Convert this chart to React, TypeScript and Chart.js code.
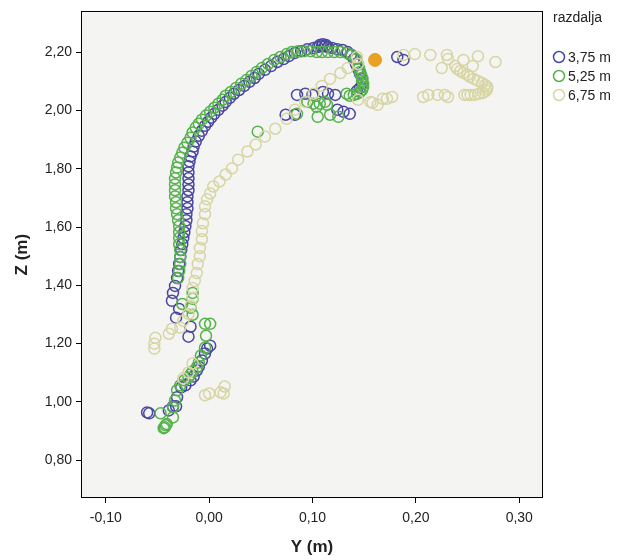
import React, { useEffect, useRef } from 'react';
import { Chart, registerables } from 'chart.js';

Chart.register(...registerables);

const SERIES_LABELS = ['3,75 m', '5,25 m', '6,75 m'];
const SERIES_COLORS = ['#4a47a3', '#55b24c', '#d7d5a4'];
const HIGHLIGHT_COLOR = '#e8a122';

const X_TICKS = [-0.1, 0, 0.1, 0.2, 0.3];
const Z_TICKS = [0.8, 1.0, 1.2, 1.4, 1.6, 1.8, 2.0, 2.2];
const X_MIN = -0.123;
const X_MAX = 0.322;
const Z_MIN = 0.674;
const Z_MAX = 2.336;

// [Y (m), Z (m)]
const s375: [number, number][] = [
  [-0.060, 0.964], [-0.058, 0.961], [-0.039, 0.971], [-0.035, 0.985], [-0.032, 0.985],
  [-0.031, 1.016], [-0.027, 1.050], [-0.023, 1.057], [-0.018, 1.074], [-0.015, 1.087],
  [-0.012, 1.108], [-0.010, 1.121], [-0.007, 1.142], [-0.004, 1.166], [-0.002, 1.183],
  [0.001, 1.193], [-0.018, 1.258], [-0.020, 1.224], [-0.032, 1.289], [-0.029, 1.319],
  [-0.036, 1.347], [-0.035, 1.374], [-0.033, 1.398], [-0.031, 1.425], [-0.030, 1.449],
  [-0.029, 1.473], [-0.028, 1.497], [-0.027, 1.521], [-0.026, 1.541], [-0.025, 1.562],
  [-0.024, 1.582], [-0.023, 1.603], [-0.022, 1.623], [-0.022, 1.644], [-0.021, 1.664],
  [-0.021, 1.685], [-0.021, 1.705], [-0.020, 1.726], [-0.020, 1.746], [-0.020, 1.767],
  [-0.020, 1.787], [-0.020, 1.808], [-0.019, 1.825], [-0.018, 1.842], [-0.016, 1.859],
  [-0.015, 1.876], [-0.013, 1.893], [-0.010, 1.913], [-0.007, 1.930], [-0.004, 1.947],
  [-0.001, 1.961], [0.002, 1.975], [0.005, 1.988], [0.009, 2.002], [0.013, 2.016],
  [0.016, 2.029], [0.020, 2.043], [0.024, 2.057], [0.029, 2.070], [0.034, 2.084],
  [0.039, 2.098], [0.044, 2.111], [0.048, 2.125], [0.054, 2.139], [0.060, 2.152],
  [0.066, 2.166], [0.072, 2.176], [0.077, 2.186], [0.083, 2.197], [0.089, 2.203],
  [0.095, 2.210], [0.101, 2.214], [0.105, 2.217], [0.107, 2.224], [0.109, 2.220],
  [0.110, 2.227], [0.112, 2.220], [0.113, 2.224], [0.115, 2.217], [0.119, 2.214],
  [0.124, 2.210], [0.129, 2.207], [0.134, 2.200], [0.137, 2.190], [0.140, 2.176],
  [0.142, 2.159], [0.144, 2.142], [0.146, 2.125], [0.148, 2.108], [0.148, 2.091],
  [0.146, 2.077], [0.143, 2.067], [0.122, 2.053], [0.115, 2.057], [0.110, 2.063],
  [0.100, 2.053], [0.093, 2.057], [0.085, 2.053], [0.083, 1.985], [0.074, 1.985],
  [0.124, 2.002], [0.130, 1.995], [0.136, 1.988], [0.182, 2.183], [0.188, 2.173],
];

const s525: [number, number][] = [
  [-0.044, 0.910], [-0.043, 0.913], [-0.042, 0.920], [-0.041, 0.924], [-0.047, 0.961],
  [-0.035, 0.947], [-0.035, 0.982], [-0.033, 1.005], [-0.031, 1.040], [-0.028, 1.057],
  [-0.024, 1.074], [-0.020, 1.084], [-0.018, 1.094], [-0.016, 1.104], [-0.012, 1.118],
  [-0.010, 1.135], [-0.008, 1.159], [-0.004, 1.186], [-0.003, 1.227], [-0.004, 1.268],
  [0.001, 1.268], [-0.016, 1.299], [-0.018, 1.323], [-0.026, 1.336], [-0.016, 1.354],
  [-0.016, 1.374], [-0.030, 1.425], [-0.029, 1.449], [-0.028, 1.473], [-0.028, 1.497],
  [-0.028, 1.521], [-0.029, 1.541], [-0.029, 1.562], [-0.029, 1.582], [-0.029, 1.603],
  [-0.030, 1.623], [-0.031, 1.644], [-0.032, 1.664], [-0.032, 1.685], [-0.033, 1.705],
  [-0.033, 1.726], [-0.033, 1.746], [-0.033, 1.767], [-0.032, 1.787], [-0.031, 1.804],
  [-0.030, 1.821], [-0.028, 1.838], [-0.026, 1.855], [-0.024, 1.872], [-0.021, 1.889],
  [-0.018, 1.906], [-0.016, 1.924], [-0.013, 1.941], [-0.010, 1.954], [-0.007, 1.968],
  [-0.003, 1.982], [0.001, 1.995], [0.005, 2.009], [0.009, 2.023], [0.013, 2.036],
  [0.016, 2.050], [0.021, 2.063], [0.026, 2.077], [0.031, 2.091], [0.036, 2.104],
  [0.041, 2.118], [0.046, 2.132], [0.051, 2.145], [0.057, 2.159], [0.063, 2.173],
  [0.069, 2.183], [0.075, 2.193], [0.080, 2.200], [0.086, 2.203], [0.092, 2.203],
  [0.098, 2.203], [0.104, 2.200], [0.109, 2.200], [0.115, 2.200], [0.121, 2.200],
  [0.127, 2.200], [0.133, 2.197], [0.138, 2.190], [0.142, 2.176], [0.144, 2.159],
  [0.145, 2.145], [0.146, 2.132], [0.147, 2.121], [0.148, 2.111], [0.148, 2.101],
  [0.149, 2.091], [0.149, 2.081], [0.148, 2.070], [0.146, 2.063], [0.143, 2.057],
  [0.140, 2.053], [0.136, 2.050], [0.133, 2.057], [0.095, 2.029], [0.101, 2.023],
  [0.107, 2.023], [0.112, 2.029], [0.114, 2.019], [0.104, 2.012], [0.085, 1.988],
  [0.105, 1.978], [0.117, 1.985], [0.125, 1.978], [0.047, 1.927],
];

const s675: [number, number][] = [
  [-0.004, 1.023], [0.000, 1.029], [0.011, 1.033], [0.015, 1.053], [0.014, 1.029],
  [-0.025, 1.081], [-0.020, 1.101], [-0.016, 1.132], [-0.052, 1.220], [-0.053, 1.200],
  [-0.053, 1.183], [-0.039, 1.234], [-0.036, 1.251], [-0.028, 1.255], [-0.025, 1.278],
  [-0.020, 1.302], [-0.018, 1.330], [-0.016, 1.357], [-0.016, 1.391], [-0.014, 1.415],
  [-0.012, 1.442], [-0.011, 1.473], [-0.009, 1.500], [-0.009, 1.528], [-0.007, 1.558],
  [-0.007, 1.586], [-0.006, 1.613], [-0.004, 1.644], [-0.004, 1.671], [-0.002, 1.695],
  [0.001, 1.715], [0.004, 1.739], [0.010, 1.756], [0.016, 1.780], [0.022, 1.801],
  [0.028, 1.831], [0.037, 1.859], [0.045, 1.883], [0.054, 1.910], [0.064, 1.937],
  [0.075, 1.971], [0.083, 2.002], [0.093, 2.029], [0.101, 2.057], [0.109, 2.084],
  [0.117, 2.108], [0.127, 2.128], [0.134, 2.145], [0.144, 2.159], [0.143, 2.183],
  [0.188, 2.190], [0.199, 2.193], [0.214, 2.190], [0.230, 2.190], [0.231, 2.176],
  [0.225, 2.145], [0.246, 2.173], [0.260, 2.186], [0.277, 2.166], [0.255, 2.152],
  [0.238, 2.152], [0.240, 2.142], [0.243, 2.135], [0.246, 2.128], [0.250, 2.122],
  [0.252, 2.115], [0.256, 2.108], [0.260, 2.101], [0.264, 2.094], [0.267, 2.087],
  [0.269, 2.081], [0.269, 2.074], [0.268, 2.067], [0.265, 2.060], [0.261, 2.057],
  [0.257, 2.053], [0.253, 2.053], [0.250, 2.053], [0.247, 2.053], [0.144, 2.036],
  [0.156, 2.029], [0.163, 2.019], [0.168, 2.040], [0.172, 2.040], [0.177, 2.046],
  [0.158, 2.026], [0.207, 2.046], [0.212, 2.053], [0.221, 2.053], [0.228, 2.053],
  [0.231, 2.046],
];

const highlight: [number, number][] = [[0.1605, 2.173]];

const FONT = '"Liberation Sans", Arial, sans-serif';
const fmt = (v: number) => v.toFixed(2).replace('.', ',');
const toPoints = (arr: [number, number][]) => arr.map(([x, y]) => ({ x, y }));

const framePlugin = {
  id: 'frameAndLegend',
  beforeDraw(chart: any) {
    const { ctx, chartArea } = chart;
    const { left, top, right, bottom } = chartArea;
    ctx.save();
    ctx.fillStyle = '#ffffff';
    ctx.fillRect(0, 0, chart.width, chart.height);
    ctx.fillStyle = '#f4f4f2';
    ctx.fillRect(left, top, right - left, bottom - top);
    ctx.restore();
  },
  afterDraw(chart: any) {
    const { ctx, chartArea } = chart;
    const { left, top, right, bottom } = chartArea;
    ctx.save();
    ctx.strokeStyle = '#000';
    ctx.lineWidth = 1;
    ctx.strokeRect(Math.round(left) - 0.5, Math.round(top) - 0.5, Math.round(right - left) + 1, Math.round(bottom - top) + 1);
    // legend
    ctx.fillStyle = '#222';
    ctx.textBaseline = 'middle';
    ctx.textAlign = 'left';
    ctx.font = `14px ${FONT}`;
    ctx.fillText('razdalja', 553, 18);
    ctx.font = `14px ${FONT}`;
    SERIES_LABELS.forEach((lab, i) => {
      const cy = 57 + i * 19;
      ctx.beginPath();
      ctx.arc(559, cy, 5.5, 0, Math.PI * 2);
      ctx.strokeStyle = SERIES_COLORS[i];
      ctx.lineWidth = 1.5;
      ctx.stroke();
      ctx.fillStyle = '#222';
      ctx.fillText(lab, 568, cy + 1);
    });
    ctx.restore();
  },
};

export default function App() {
  const ref = useRef<HTMLCanvasElement | null>(null);
  useEffect(() => {
    document.body.style.margin = '0';
    if (!ref.current) return;
    const mk = (label: string, arr: [number, number][], color: string, order: number) => ({
      label,
      data: toPoints(arr),
      borderColor: color,
      backgroundColor: 'rgba(0,0,0,0)',
      pointRadius: 5.5,
      pointBorderWidth: 1.5,
      pointStyle: 'circle',
      order,
    });
    const chart = new Chart(ref.current, {
      type: 'scatter',
      data: {
        datasets: [
          mk(SERIES_LABELS[0], s375, SERIES_COLORS[0], 4),
          mk(SERIES_LABELS[1], s525, SERIES_COLORS[1], 3),
          mk(SERIES_LABELS[2], s675, SERIES_COLORS[2], 2),
          {
            label: 'highlight',
            data: toPoints(highlight),
            borderColor: HIGHLIGHT_COLOR,
            backgroundColor: HIGHLIGHT_COLOR,
            pointRadius: 6.5,
            pointBorderWidth: 1,
            order: 1,
          } as any,
        ],
      },
      options: {
        animation: false,
        responsive: false,
        maintainAspectRatio: false,
        layout: { padding: { top: 10, right: 75, left: 0, bottom: 0 } },
        plugins: { legend: { display: false }, tooltip: { enabled: false } },
        scales: {
          x: {
            type: 'linear',
            min: X_MIN,
            max: X_MAX,
            afterBuildTicks: (s: any) => { s.ticks = X_TICKS.map((v) => ({ value: v })); },
            afterFit: (s: any) => { s.height = 63; },
            grid: { drawOnChartArea: false, drawTicks: true, tickLength: 6, tickColor: '#000', tickWidth: 1 },
            border: { display: false },
            ticks: {
              color: '#222', padding: 7, maxRotation: 0, autoSkip: false,
              font: { size: 14, family: FONT },
              callback: (v: any) => fmt(Number(v)),
            },
            title: {
              display: true, text: 'Y (m)', color: '#222',
              font: { size: 17, weight: 'bold', family: FONT },
              padding: { top: 0, bottom: 2 },
            },
          },
          y: {
            type: 'linear',
            min: Z_MIN,
            max: Z_MAX,
            afterBuildTicks: (s: any) => { s.ticks = Z_TICKS.map((v) => ({ value: v })); },
            afterFit: (s: any) => { s.width = 82; },
            grid: { drawOnChartArea: false, drawTicks: true, tickLength: 6, tickColor: '#000', tickWidth: 1 },
            border: { display: false },
            ticks: {
              color: '#222', padding: 4, autoSkip: false,
              font: { size: 14, family: FONT },
              callback: (v: any) => fmt(Number(v)),
            },
            title: {
              display: true, text: 'Z (m)', color: '#222',
              font: { size: 17, weight: 'bold', family: FONT },
              padding: { top: 12, bottom: 0 },
            },
          },
        },
      } as any,
      plugins: [framePlugin],
    });
    return () => chart.destroy();
  }, []);
  return (
    <div style={{ width: 617, height: 560 }}>
      <canvas ref={ref} width={617} height={560} />
    </div>
  );
}
